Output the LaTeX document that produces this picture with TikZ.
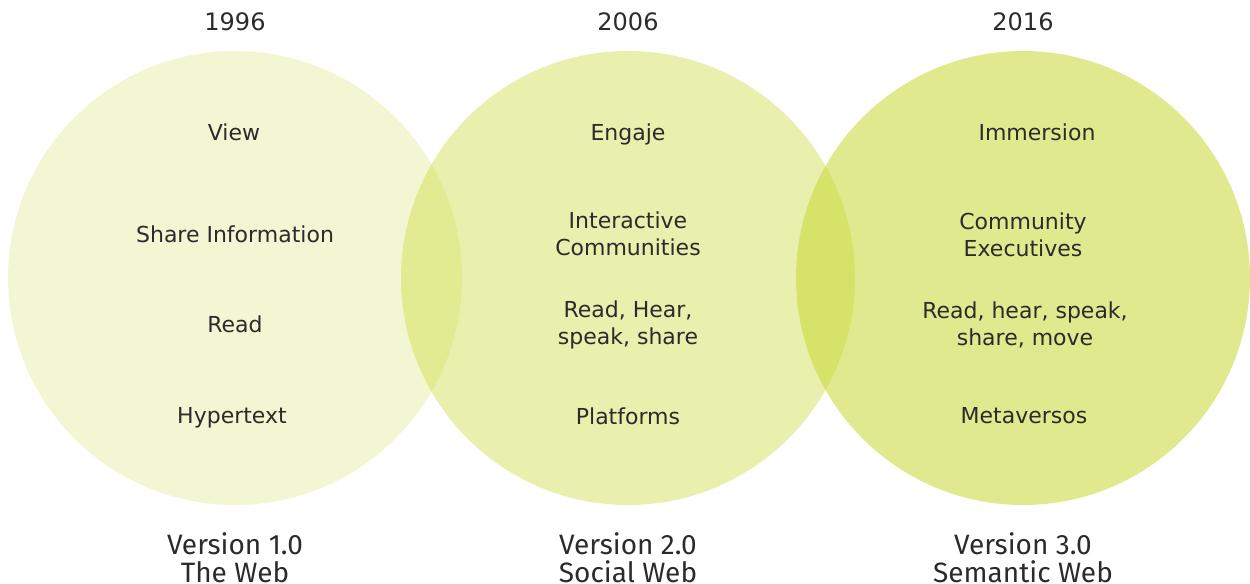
\documentclass[tikz,border=0pt]{standalone}
\usepackage{fontspec}
\setmainfont{DejaVu Sans}
\newfontfamily\labelfont{Fira Sans}
\usetikzlibrary{positioning}
\definecolor{Leaf}{HTML}{C8D732}
\definecolor{Ink}{HTML}{2B2B2B}
\tikzset{
 era/.style={circle,fill=Leaf,draw=none,minimum size=227pt,inner sep=0pt},
 item/.style={align=center,text=Ink,font=\fontsize{11}{13.5}\selectfont,inner sep=0pt},
 year/.style={text=Ink,font=\fontsize{12}{14}\selectfont,inner sep=0pt},
 version/.style={align=center,text=Ink,font=\labelfont\fontsize{14}{14}\selectfont,inner sep=0pt}
}

\begin{document}
\begin{tikzpicture}[x=0.5pt,y=-0.5pt]
\useasboundingbox (0,0) rectangle (1250,584);
% the three web generations
\node[era,fill opacity=.22] (web1) at (235,278) {};
\node[era,fill opacity=.40] (web2) at (628,278) {};
\node[era,fill opacity=.55] (web3) at (1023,278) {};
% years
\node[year] (y1) at (235,22) {1996};
\node[year] (y2) at (628,22) {2006};
\node[year] (y3) at (1023,22) {2016};
% Web 1.0
\node[item] (a1) at (234,132) {View};
\node[item] (a2) at (235,234) {Share Information};
\node[item] (a3) at (235,324) {Read};
\node[item] (a4) at (232,418) {Hypertext};
% Web 2.0
\node[item] (b1) at (628,134) {Engaje};
\node[item] (b2) at (628,234) {Interactive\\Communities};
\node[item] (b3) at (628,325) {Read, Hear,\\speak, share};
\node[item] (b4) at (628,416) {Platforms};
% Web 3.0
\node[item] (c1) at (1037,132) {Immersion};
\node[item] (c2) at (1023,235) {Community\\Executives};
\node[item] (c3) at (1025,325) {Read, hear, speak,\\share, move};
\node[item] (c4) at (1024,416) {Metaversos};
% names under the circles
\node[version] (v1) at (235,558) {Version 1.0\\The Web};
\node[version] (v2) at (628,558) {Version 2.0\\Social Web};
\node[version] (v3) at (1023,558) {Version 3.0\\Semantic Web};
\end{tikzpicture}
\end{document}
